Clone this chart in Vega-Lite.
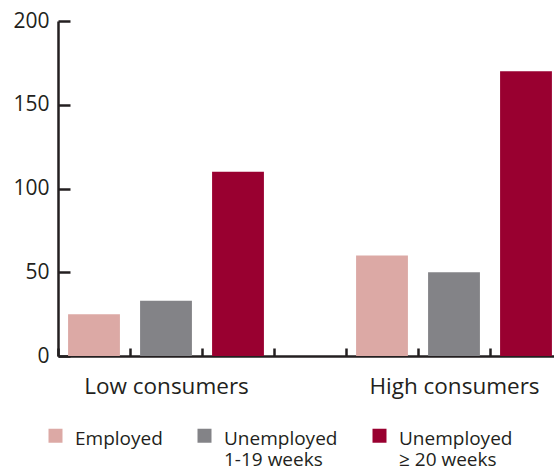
{
  "$schema": "https://vega.github.io/schema/vega-lite/v6.json",
  "width": 496,
  "height": 335,
  "autosize": {"type": "none"},
  "padding": {"left": 58, "top": 21, "right": 0, "bottom": 113},
  "background": "white",
  "config": {
    "view": {"stroke": null},
    "font": "Open Sans"
  },
  "data": {
    "values": [
      {"bar": "Low|E", "group": "Low consumers", "status": "Employed|", "value": 25},
      {"bar": "Low|U1", "group": "Low consumers", "status": "Unemployed|1-19 weeks", "value": 33},
      {"bar": "Low|U20", "group": "Low consumers", "status": "Unemployed|≥ 20 weeks", "value": 110},
      {"bar": "High|E", "group": "High consumers", "status": "Employed|", "value": 60},
      {"bar": "High|U1", "group": "High consumers", "status": "Unemployed|1-19 weeks", "value": 50},
      {"bar": "High|U20", "group": "High consumers", "status": "Unemployed|≥ 20 weeks", "value": 170}
    ]
  },
  "mark": {"type": "bar", "width": {"band": 0.72}},
  "encoding": {
    "x": {
      "field": "bar",
      "type": "nominal",
      "sort": null,
      "scale": {
        "domain": ["Low|E", "Low|U1", "Low|U20", "gap", "High|E", "High|U1", "High|U20"],
        "range": [0, 504],
        "paddingInner": 0,
        "paddingOuter": 0
      },
      "axis": {
        "title": null,
        "tickBand": "extent",
        "labelAngle": 0,
        "labelExpr": "datum.value == 'Low|U1' ? 'Low consumers' : (datum.value == 'High|U1' ? 'High consumers' : '')",
        "labelFontSize": 22.5,
        "labelColor": "#231f20",
        "labelPadding": 27,
        "labelOverlap": false,
        "labelLimit": 400,
        "tickSize": -8,
        "tickWidth": 2.5,
        "tickColor": "#231f20",
        "domainColor": "#231f20",
        "domainWidth": 2.5
      }
    },
    "y": {
      "field": "value",
      "type": "quantitative",
      "scale": {"domain": [0, 200], "nice": false},
      "axis": {
        "title": null,
        "values": [0, 50, 100, 150, 200],
        "grid": false,
        "labelFontSize": 21,
        "labelColor": "#231f20",
        "labelPadding": 21,
        "tickSize": -12,
        "tickWidth": 2.5,
        "tickColor": "#231f20",
        "domainColor": "#231f20",
        "domainWidth": 2.5
      }
    },
    "color": {
      "field": "status",
      "type": "nominal",
      "scale": {
        "domain": ["Employed|", "Unemployed|1-19 weeks", "Unemployed|≥ 20 weeks"],
        "range": ["#dca9a5", "#838387", "#990030"]
      },
      "legend": {
        "title": null,
        "orient": "none",
        "legendX": -12,
        "legendY": 408,
        "direction": "horizontal",
        "columns": 3,
        "columnPadding": 32,
        "symbolType": "M-1,-1.43H1V0.57H-1Z",
        "symbolSize": 196,
        "symbolStrokeWidth": 0,
        "symbolOpacity": 1,
        "labelExpr": "split(datum.label, '|')",
        "labelFontSize": 19,
        "labelColor": "#231f20",
        "labelOffset": 10,
        "labelLimit": 300
      }
    }
  }
}
